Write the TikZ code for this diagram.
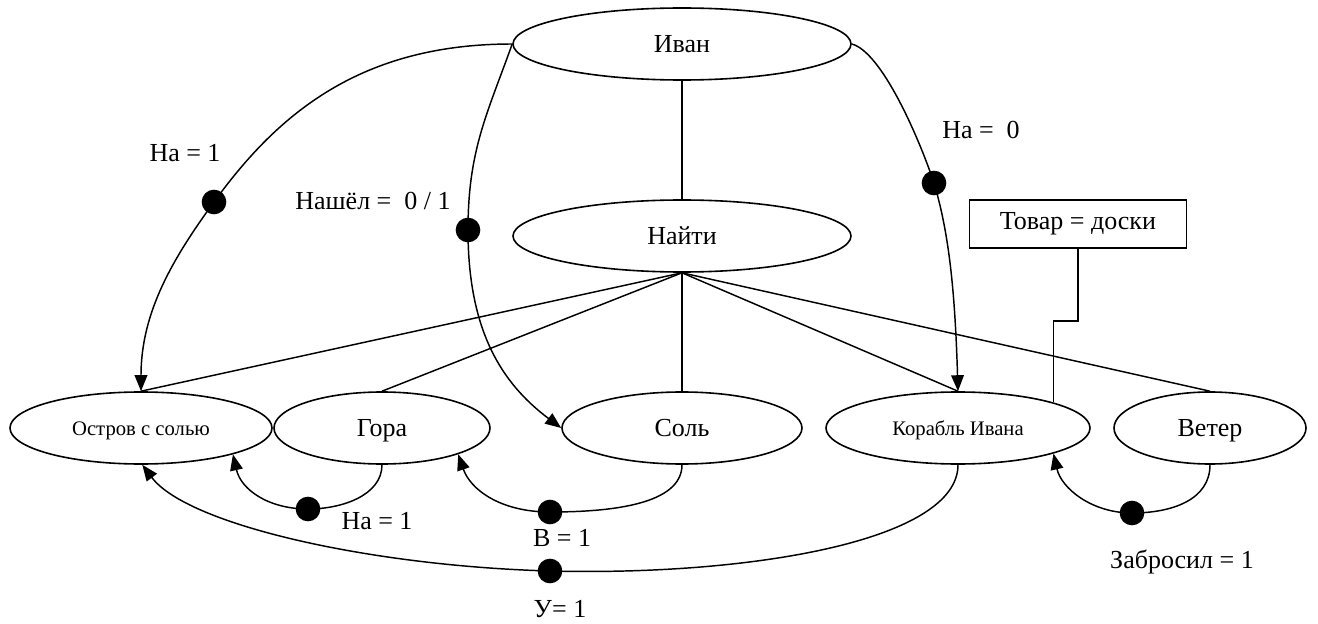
\documentclass[tikz,border=0pt]{standalone}
\usepackage{fontspec}
\setmainfont{Liberation Serif}
\usetikzlibrary{shapes.geometric,arrows.meta}
\begin{document}
\begin{tikzpicture}[x=0.75pt,y=-0.75pt,
  ent/.style={ellipse,draw,line width=1.2pt,inner sep=0pt,minimum height=54pt,text height=12.8pt,text depth=0pt,font=\fontsize{19.5}{23}\selectfont},
  sment/.style={ent,text height=11pt,font=\fontsize{15.5}{18}\selectfont},
  lbl/.style={font=\fontsize{19.5}{23}\selectfont,inner sep=0pt},
  dotn/.style={circle,fill=black,inner sep=0pt,minimum size=18.5pt},
  lnk/.style={line width=1.1pt},
  arr/.style={lnk,-{Triangle[length=12pt,width=9.5pt]}},
  boxn/.style={draw,line width=1.2pt,inner sep=0pt,minimum width=162.75pt,minimum height=36pt,font=\fontsize{19.5}{23}\selectfont}
]
\useasboundingbox (0,0) rectangle (1318,624);
% entities
\node[ent,minimum width=253.5pt] (ivan) at (682,44) {Иван};
\node[ent,minimum width=253.5pt] (naiti) at (682,236) {Найти};
\node[sment,minimum width=196.5pt] (ostrov) at (141,428) {Остров с солью};
\node[ent,minimum width=162pt] (gora) at (382,428) {Гора};
\node[ent,minimum width=180pt] (sol) at (682,428) {Соль};
\node[sment,minimum width=198pt] (korabl) at (958,428) {Корабль Ивана};
\node[ent,minimum width=144pt] (veter) at (1210,428) {Ветер};
\node[boxn] (tovar) at (1078,224) {Товар = доски};
% dots
\node[dotn] (d1) at (214,202) {};
\node[dotn] (d2) at (468,230) {};
\node[dotn] (d3) at (934,183) {};
\node[dotn] (d4) at (308,509) {};
\node[dotn] (d5) at (550,512) {};
\node[dotn] (d6) at (550,571) {};
\node[dotn] (d7) at (1132,513) {};
% straight links
\draw[lnk] (ivan) -- (naiti);
\draw[lnk] (naiti.south) -- (ostrov.north);
\draw[lnk] (naiti.south) -- (gora.north);
\draw[lnk] (naiti.south) -- (sol.north);
\draw[lnk] (naiti.south) -- (korabl.north);
\draw[lnk] (naiti.south) -- (veter.north);
\draw[lnk] (tovar.south) -- ++(0,72) -| (korabl.15);
% curved links
\draw[arr] (ivan.west) .. controls +(-150,0) and +(65,-90) .. (d1.center)
  .. controls +(-40,55) and +(0,-80) .. (ostrov.north);
\draw[arr] (ivan.west) .. controls +(-25,70) and +(0,-80) .. (d2.center)
  .. controls +(0,100) and +(-60,-45) .. (sol.west);
\draw[arr] (ivan.east) .. controls +(30,8) and +(-15,-45) .. (d3.center)
  .. controls +(15,50) and +(-3,-100) .. (korabl.north);
\draw[arr] (gora.south) .. controls +(0,30) and +(35,0) .. (d4.center)
  .. controls +(-40,0) and +(8,35) .. (ostrov.-16);
\draw[arr] (sol.south) .. controls +(0,40) and +(60,0) .. (d5.center)
  .. controls +(-50,0) and +(12,35) .. (gora.-19);
\draw[arr] (korabl.south) .. controls +(0,76) and +(200,5) .. (d6.center)
  .. controls +(-180,-5) and +(45,60) .. (ostrov.-88);
\draw[arr] (veter.south) .. controls +(0,35) and +(40,0) .. (d7.center)
  .. controls +(-40,0) and +(8,35) .. (korabl.-15);
% labels
\node[lbl] (l1) at (185,153) {На = 1};
\node[lbl] (l2) at (373,201) {Нашёл =\ \ 0 / 1};
\node[lbl] (l3) at (981,130) {На =\ \ 0};
\node[lbl] (l4) at (377,521) {На = 1};
\node[lbl] (l5) at (562,538) {В = 1};
\node[lbl] (l6) at (560,609) {У= 1};
\node[lbl] (l7) at (1182,562) {Забросил = 1};
\end{tikzpicture}
\end{document}
